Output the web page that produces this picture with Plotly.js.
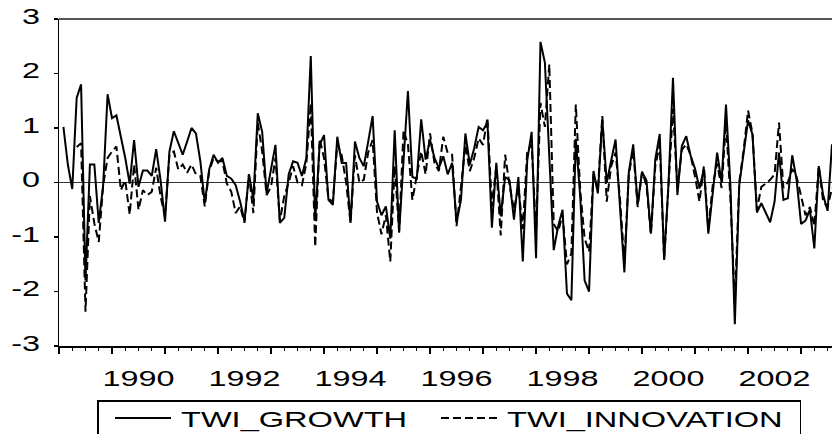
<!DOCTYPE html>
<html>
<head>
<meta charset="utf-8">
<script src="https://cdn.plot.ly/plotly-3.0.1.min.js"></script>
<style>html,body{margin:0;padding:0;background:#fff;}#chart{width:833px;height:434px;}</style>
</head>
<body>
<div id="chart"></div>
<script>
// Monthly series, first observation 1989M02
const startYear = 1989;
const startMonth = 2;
const yearLabels = ["1990", "1992", "1994", "1996", "1998", "2000", "2002"];
const yTicks = [-3, -2, -1, 0, 1, 2, 3];

const twiGrowth = [
  1.02, 0.33, -0.12, 1.55, 1.80, -1.80, 0.33, 0.33, -0.74, -0.05,
  1.62, 1.18, 1.23, 0.87, 0.45, -0.02, 0.78, -0.08, 0.22, 0.22,
  0.12, 0.61, 0.04, -0.72, 0.57, 0.94, 0.72, 0.51, 0.75, 1.00,
  0.90, 0.39, -0.38, 0.24, 0.51, 0.36, 0.45, 0.12, 0.07, -0.05,
  -0.35, -0.71, 0.15, -0.30, 1.27, 0.93, -0.20, 0.27, 0.69, -0.74,
  -0.65, 0.15, 0.39, 0.36, 0.12, 0.45, 2.32, -0.70, 0.69, 0.87,
  -0.32, -0.41, 0.84, 0.36, 0.36, -0.74, 0.75, 0.45, 0.30, 0.75,
  1.22, -0.35, -0.60, -0.44, -1.03, 0.96, -0.92, 0.40, 1.68, 0.10,
  0.07, 1.16, 0.42, 0.78, 0.45, 0.27, 0.48, 0.15, 0.36, -0.74,
  -0.32, 0.90, 0.33, 0.63, 1.02, 0.96, 1.10, -0.83, 0.36, -0.62,
  0.10, 0.04, -0.68, 0.10, -1.45, 0.40, 0.93, -1.39, 2.58, 2.20,
  0.50, -1.24, -0.80, -0.50, -2.04, -2.16, 0.80, -0.26, -1.80, -2.00,
  0.21, -0.20, 1.16, 0.00, 0.40, 0.79, -0.45, -1.65, 0.19, 0.70,
  -0.40, 0.19, 0.04, -0.94, 0.43, 0.89, -1.42, 0.00, 1.92, -0.23,
  0.67, 0.85, 0.49, 0.25, -0.11, 0.25, -0.94, -0.17, 0.55, 0.00,
  1.43, -0.05, -2.60, -0.05, 0.55, 1.14, 0.88, -0.55, -0.38, -0.55,
  -0.73, -0.35, 0.55, -0.32, -0.29, 0.50, 0.04, -0.76, -0.70, -0.50,
  -1.21, 0.30, -0.23, -0.52, 0.70
];

const twiInnovation = [
  null, null, null, 0.65, 0.72, -2.37, -0.25, -0.75, -1.09, -0.05,
  0.45, 0.57, 0.66, -0.14, 0.04, -0.59, 0.33, -0.50, -0.14, -0.23,
  -0.17, 0.27, -0.26, -0.62, 0.51, 0.57, 0.24, 0.33, 0.18, 0.33,
  0.15, 0.12, -0.44, 0.21, 0.45, 0.39, 0.39, -0.02, -0.17, -0.56,
  -0.44, -0.74, 0.15, -0.56, 1.10, 0.57, -0.23, -0.08, 0.45, -0.70,
  -0.25, 0.00, 0.30, 0.00, -0.05, 0.35, 1.45, -1.18, 0.80, 0.45,
  -0.30, -0.35, 0.70, 0.50, 0.00, -0.74, 0.50, 0.00, 0.05, 0.55,
  0.78, -0.55, -0.95, -0.60, -1.45, 0.30, -0.89, 0.96, 0.69, -0.32,
  0.10, 0.57, 0.15, 0.90, 0.36, 0.21, 0.84, 0.54, 0.51, -0.80,
  -0.08, 0.69, 0.21, 0.45, 0.81, 0.69, 1.19, -0.44, 0.30, -0.97,
  0.51, -0.05, -0.50, -0.08, -0.85, 0.57, 0.70, -0.90, 1.46, 1.02,
  2.17, -0.76, -0.90, -0.60, -1.50, -1.30, 1.43, -0.14, -1.03, -1.27,
  0.15, -0.14, 1.22, -0.35, 0.30, 0.55, -0.30, -1.45, 0.15, 0.60,
  -0.45, 0.20, -0.05, -0.95, 0.30, 0.70, -1.40, 0.10, 1.35, -0.10,
  0.60, 0.70, 0.50, 0.10, -0.35, 0.30, -0.85, -0.05, 0.35, -0.10,
  1.10, -0.30, -2.20, 0.00, 0.60, 1.32, 0.90, -0.50, -0.08, -0.02,
  0.05, 0.15, 1.10, -0.10, 0.00, 0.25, 0.10, -0.25, -0.60, -0.45,
  -0.80, 0.30, -0.35, -0.45, -0.10
];

const dates = twiGrowth.map((_, i) => startYear + (startMonth - 1 + i) / 12);
const xStart = startYear + (startMonth - 2) / 12;
const xEnd = dates[dates.length - 1];
const labelVals = yearLabels.map(y => Number(y) + 0.5);

const FONT = "Liberation Sans, Arial, sans-serif";
const TICK_SIZE = 22, TICK_STRETCH = 1.47;
const LEG_SIZE = 22, LEG_STRETCH = 1.48;
const LEG_SYMBOL = 56;

const traces = [
  {x: dates, y: twiGrowth, name: "TWI_GROWTH", type: "scatter", mode: "lines",
   line: {color: "#000", width: 2}, hoverinfo: "skip"},
  {x: dates, y: twiInnovation, name: "TWI_INNOVATION", type: "scatter", mode: "lines",
   line: {color: "#000", width: 2, dash: "8px,4px"}, hoverinfo: "skip"},
  {x: [xStart], y: [null], xaxis: "x2", yaxis: "y", showlegend: false, mode: "lines", hoverinfo: "skip"}
];

const layout = {
  width: 833, height: 434,
  margin: {l: 59, r: 1, t: 19, b: 78},
  paper_bgcolor: "#fff", plot_bgcolor: "#fff",
  font: {family: FONT, color: "#000"},
  showlegend: true,
  legend: {
    orientation: "h", x: 0.5, xanchor: "center", y: -0.13, yanchor: "top",
    bordercolor: "#000", borderwidth: 1.5, font: {size: LEG_SIZE, family: FONT},
    itemwidth: LEG_SYMBOL, tracegroupgap: 0
  },
  xaxis: {
    range: [xStart, xEnd], showgrid: false, zeroline: false,
    tickmode: "array", tickvals: labelVals, ticktext: yearLabels,
    ticks: "", showline: true, linecolor: "#000", linewidth: 1.5,
    tickfont: {size: TICK_SIZE, family: FONT}, ticklabelstandoff: 12
  },
  xaxis2: {
    overlaying: "x", anchor: "y", side: "bottom", range: [xStart, xEnd],
    showgrid: false, zeroline: false, showticklabels: false, showline: false,
    tickmode: "linear", tick0: 1989, dtick: 1, ticks: "outside", ticklen: 7,
    tickwidth: 1.5, tickcolor: "#000",
    minor: {ticks: "outside", tickmode: "linear", tick0: 1989, dtick: 0.25, ticklen: 4, tickwidth: 1.2, tickcolor: "#000", showgrid: false}
  },
  yaxis: {
    range: [-3, 3], tickmode: "array", tickvals: yTicks, ticktext: yTicks.map(String),
    showgrid: false, zeroline: true, zerolinecolor: "#333", zerolinewidth: 1,
    showline: true, linecolor: "#000", linewidth: 1.5,
    ticks: "outside", ticklen: 4, tickwidth: 1.2, tickcolor: "#000",
    tickfont: {size: TICK_SIZE, family: FONT}, ticklabelstandoff: 9
  },
  shapes: [
    {type: "line", xref: "paper", yref: "paper", x0: 0, x1: 1, y0: 1, y1: 1,
     line: {color: "#555", width: 2}}
  ]
};

function stretchText(selector, s) {
  document.querySelectorAll(selector).forEach(t => {
    const w = t.getComputedTextLength();
    if (w > 0) {
      t.setAttribute("textLength", (w * s).toFixed(1));
      t.setAttribute("lengthAdjust", "spacingAndGlyphs");
    }
  });
}

// Legend geometry (pixels in the page)
const LEG_BOX = {left: 97, right: 801, top: 400, height: 44};
const LEG_ITEM_X = [110, 436];
const LEG_ITEM_Y = 18;
const LEG_TEXT_SHIFT = 5;
const YLABEL_LIFT = 3;

Plotly.newPlot("chart", traces, layout, {displayModeBar: false, staticPlot: true}).then(() => {
  stretchText("g.xtick > text", TICK_STRETCH);
  stretchText("g.ytick > text", TICK_STRETCH);
  stretchText("text.legendtext", LEG_STRETCH);
  document.querySelectorAll("g.ytick > text").forEach(t => {
    const dy = parseFloat(t.getAttribute("y")) || 0;
    t.setAttribute("y", dy - YLABEL_LIFT);
  });
  const leg = document.querySelector("g.legend");
  if (leg) {
    leg.setAttribute("transform", `translate(${LEG_BOX.left},${LEG_BOX.top})`);
    const bg = leg.querySelector("rect.bg");
    if (bg) {
      bg.setAttribute("width", LEG_BOX.right - LEG_BOX.left - 1.5);
      bg.setAttribute("height", LEG_BOX.height);
    }
    const sb = leg.querySelector(".scrollbox");
    if (sb) sb.removeAttribute("clip-path");
    leg.querySelectorAll("g.traces").forEach((g, i) => {
      g.setAttribute("transform", `translate(${LEG_ITEM_X[i] - LEG_BOX.left},${LEG_ITEM_Y})`);
      const t = g.querySelector("text.legendtext");
      if (t) t.setAttribute("x", (parseFloat(t.getAttribute("x")) || 0) + LEG_TEXT_SHIFT);
    });
  }
});
</script>
</body>
</html>
